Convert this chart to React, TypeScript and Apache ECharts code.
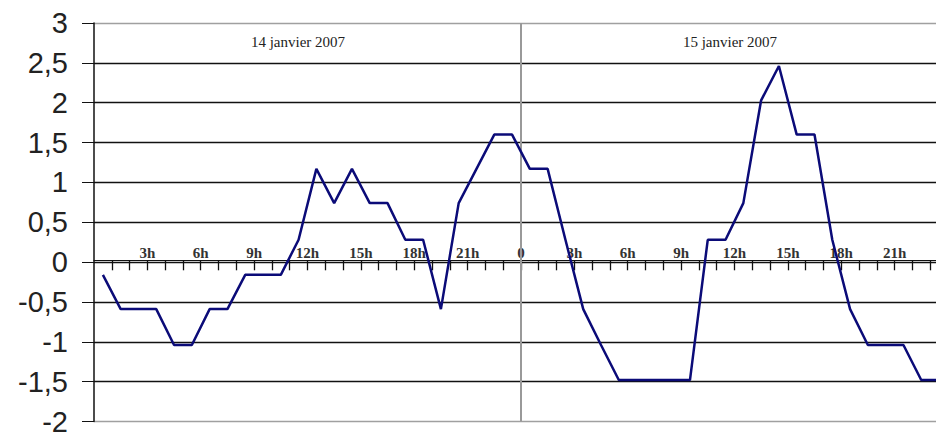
import React, { useEffect, useRef } from "react";
import * as echarts from "echarts";

// Hourly readings, one per hour, plotted at mid-hour
const day1Values = [-0.16, -0.59, -0.59, -0.59, -1.04, -1.04, -0.59, -0.59, -0.16, -0.16, -0.16, 0.28, 1.17, 0.74, 1.17, 0.74, 0.74, 0.28, 0.28, -0.59, 0.74, 1.17, 1.6, 1.6];
const day2Values = [1.17, 1.17, 0.28, -0.59, -1.04, -1.48, -1.48, -1.48, -1.48, -1.48, 0.28, 0.28, 0.74, 2.03, 2.46, 1.6, 1.6, 0.28, -0.59, -1.04, -1.04, -1.04, -1.48, -1.48];
const dayLabels = ["14 janvier 2007", "15 janvier 2007"];
const hourLabelValues = [3, 6, 9, 12, 15, 18, 21, 24, 27, 30, 33, 36, 39, 42, 45];
const hourTickValues = Array.from({ length: 47 }, (_, i) => i + 1);
const yMin = -2;
const yMax = 3;
const yStep = 0.5;
const dayBoundary = 24;

const W = 936;
const H = 436;
const GRID_TOP = 23;
const GRID_BOTTOM = 10;

export default function App() {
  const ref = useRef<HTMLDivElement>(null);
  useEffect(() => {
    if (!ref.current) return;
    const chart = echarts.init(ref.current, null, { renderer: "svg" });
    const all = [...day1Values, ...day2Values];
    const data = all.map((v, i) => [i + 0.5, v]);
    const nLines = Math.round((yMax - yMin) / yStep) + 1;
    const splitColors = Array.from({ length: nLines }, (_, i) =>
      i === 0 || i === nLines - 1 ? "#a0a0a0" : "#111"
    );
    const gridH = H - GRID_TOP - GRID_BOTTOM;
    const zeroOffset = -gridH * (0 - yMin) / (yMax - yMin);
    chart.setOption({
      animation: false,
      backgroundColor: "#fff",
      grid: { left: 94, right: 0, top: GRID_TOP, bottom: GRID_BOTTOM, containLabel: false },
      xAxis: {
        type: "value",
        position: "bottom",
        offset: zeroOffset,
        min: 0,
        max: 47.33,
        interval: 1,
        axisLine: { onZero: false, lineStyle: { color: "#111", width: 1.2 } },
        axisTick: {
          show: true,
          inside: false,
          length: 10,
          lineStyle: { color: "#111", width: 1.3 },
          customValues: hourTickValues,
        },
        axisLabel: {
          inside: true,
          margin: 0,
          customValues: hourLabelValues,
          formatter: (v: number) => (v % 24 === 0 ? "0" : `${v % 24}h`),
          fontFamily: "Liberation Serif",
          fontWeight: "bold",
          fontSize: 15,
          color: "#333",
        },
        splitLine: { show: false },
      },
      yAxis: {
        type: "value",
        min: yMin,
        max: yMax,
        interval: yStep,
        axisLine: { show: true, lineStyle: { color: "#111", width: 1.5 } },
        axisTick: { show: true, length: 12, lineStyle: { color: "#111", width: 1 } },
        axisLabel: {
          margin: 26,
          formatter: (v: number) => String(v).replace(".", ","),
          fontFamily: "Liberation Sans",
          fontSize: 29,
          color: "#222",
        },
        splitLine: { show: true, lineStyle: { color: splitColors, width: 1.3 } },
      },
      graphic: [
        {
          type: "text",
          x: 298,
          y: 42,
          style: {
            text: dayLabels[0],
            font: "15px 'Liberation Serif'",
            fill: "#222",
            align: "center",
            verticalAlign: "middle",
          },
        },
        {
          type: "text",
          x: 730,
          y: 42,
          style: {
            text: dayLabels[1],
            font: "15px 'Liberation Serif'",
            fill: "#222",
            align: "center",
            verticalAlign: "middle",
          },
        },
      ],
      series: [
        {
          type: "line",
          data,
          showSymbol: false,
          symbol: "none",
          lineStyle: { color: "#0b0b78", width: 2.5 },
          z: 3,
          markLine: {
            silent: true,
            symbol: "none",
            label: { show: false },
            lineStyle: { color: "#999", width: 2, type: "solid" },
            data: [{ xAxis: dayBoundary }],
            z: 2,
          },
        },
      ],
    });
    return () => chart.dispose();
  }, []);
  return (
    <div
      ref={ref}
      style={{ position: "absolute", left: 0, top: 0, width: W, height: H }}
    />
  );
}
